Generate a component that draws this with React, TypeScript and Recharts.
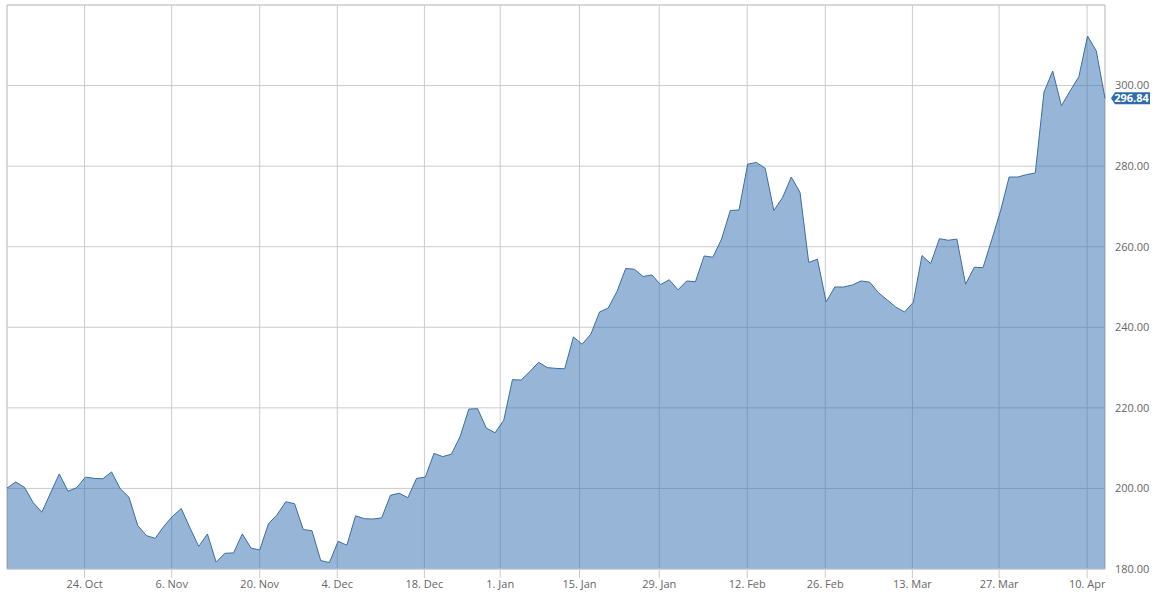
import React from 'react';
import { AreaChart, Area, XAxis, YAxis, CartesianGrid, ReferenceDot, ReferenceArea } from 'recharts';

// Daily closing values (trading days)
const values: number[] = [
  200.1, 201.6, 200.3, 196.5, 194.1, 198.9, 203.6, 199.3, 200.2, 202.8,
  202.5, 202.4, 204.1, 199.9, 197.8, 190.8, 188.3, 187.6, 190.6, 193.1,
  195.0, 190.2, 185.6, 188.7, 181.7, 183.9, 184.0, 188.7, 185.2, 184.7,
  191.2, 193.5, 196.7, 196.2, 189.8, 189.5, 182.1, 181.6, 186.9, 185.9,
  193.2, 192.5, 192.4, 192.7, 198.3, 198.8, 197.7, 202.5, 202.8, 208.7,
  207.9, 208.5, 212.9, 219.7, 219.8, 215.0, 213.8, 216.9, 227.0, 226.9,
  229.0, 231.3, 230.0, 229.8, 229.7, 237.6, 235.8, 238.3, 243.8, 244.8,
  248.9, 254.6, 254.4, 252.6, 253.0, 250.6, 251.8, 249.3, 251.5, 251.3,
  257.7, 257.4, 261.9, 269.0, 269.1, 280.5, 280.9, 279.5, 269.0, 272.2,
  277.3, 273.5, 256.1, 256.9, 246.3, 250.0, 250.0, 250.5, 251.5, 251.2,
  248.6, 246.8, 245.0, 243.8, 246.2, 257.8, 255.8, 262.0, 261.6, 261.9,
  250.7, 254.9, 254.8, 261.7, 268.8, 277.3, 277.3, 277.9, 278.3, 298.4,
  303.6, 295.0, 298.7, 302.2, 312.3, 308.6, 296.84,
];

// Date tick labels and their (ordinal) positions on the trading-day axis
const tickLabels: string[] = [
  '24. Oct', '6. Nov', '20. Nov', '4. Dec', '18. Dec', '1. Jan', '15. Jan',
  '29. Jan', '12. Feb', '26. Feb', '13. Mar', '27. Mar', '10. Apr',
];
const tickIndex: number[] = [
  8.9, 18.9, 29.0, 37.9, 47.9, 56.6, 65.7, 74.85, 84.95, 93.9, 103.9, 113.85, 123.95,
];

const yTicks: number[] = [180, 200, 220, 240, 260, 280, 300, 320];
const yMin = 180;
const yMax = 320;

const data = values.map((v, i) => ({ i, v }));
const lastIndex = values.length - 1;
const lastValue = values[lastIndex];

const FONT = '"Open Sans", "DejaVu Sans", sans-serif';

const LastLabel = (props: any) => {
  const { cx, cy } = props;
  if (cx == null || cy == null) return null;
  const x0 = cx + 6;
  const x1 = cx + 10;
  const x2 = cx + 45;
  const top = cy - 6;
  const bot = cy + 6;
  const d = `M${x0},${cy} L${x1},${top} L${x2},${top} L${x2},${bot} L${x1},${bot} Z`;
  return (
    <g>
      <path d={d} fill="#2f6cae" />
      <text
        x={(x1 + x2) / 2 - 1}
        y={cy}
        dy="0.355em"
        textAnchor="middle"
        fill="#ffffff"
        fontSize={11}
        fontWeight="bold"
        fontFamily={FONT}
      >
        {lastValue.toFixed(2)}
      </text>
    </g>
  );
};

export default function App() {
  return (
    <div style={{ position: 'absolute', left: 0, top: 0, width: 1161, height: 603, background: '#fff' }}>
      <AreaChart
        width={1161}
        height={603}
        data={data}
        margin={{ top: 5, right: 0, bottom: 0, left: 7 }}
        style={{ fontFamily: FONT }}
      >
        <CartesianGrid stroke="#cccccc" strokeWidth={1} />
        <ReferenceArea
          x1={0}
          x2={lastIndex}
          y1={yMin}
          y2={yMax}
          fill="none"
          stroke="#cccccc"
          strokeWidth={1}
          ifOverflow="visible"
        />
        <XAxis
          type="number"
          dataKey="i"
          domain={[0, lastIndex]}
          ticks={tickIndex}
          interval={0}
          allowDecimals
          height={34}
          tickFormatter={(t: number) => {
            const k = tickIndex.indexOf(t);
            return k >= 0 ? tickLabels[k] : '';
          }}
          axisLine={{ stroke: '#c0d0e0' }}
          tickLine={{ stroke: '#cccccc' }}
          tickSize={9}
          tickMargin={2}
          tick={{ fill: '#666666', fontSize: 11, fontFamily: FONT }}
        />
        <YAxis
          orientation="right"
          type="number"
          domain={[yMin, yMax]}
          ticks={yTicks}
          interval={0}
          width={56}
          axisLine={false}
          tickLine={false}
          tickSize={6}
          tickMargin={4}
          tickFormatter={(v: number) => (v === yMax ? '' : v.toFixed(2))}
          tick={{ fill: '#666666', fontSize: 11, fontFamily: FONT, textAnchor: 'start' }}
        />
        <Area
          type="linear"
          dataKey="v"
          stroke="#3a6ea5"
          strokeWidth={1}
          fill="#2f6eb0"
          fillOpacity={0.5}
          isAnimationActive={false}
          dot={false}
          activeDot={false}
        />
        <ReferenceDot
          x={lastIndex}
          y={lastValue}
          ifOverflow="visible"
          shape={LastLabel}
        />
      </AreaChart>
    </div>
  );
}
